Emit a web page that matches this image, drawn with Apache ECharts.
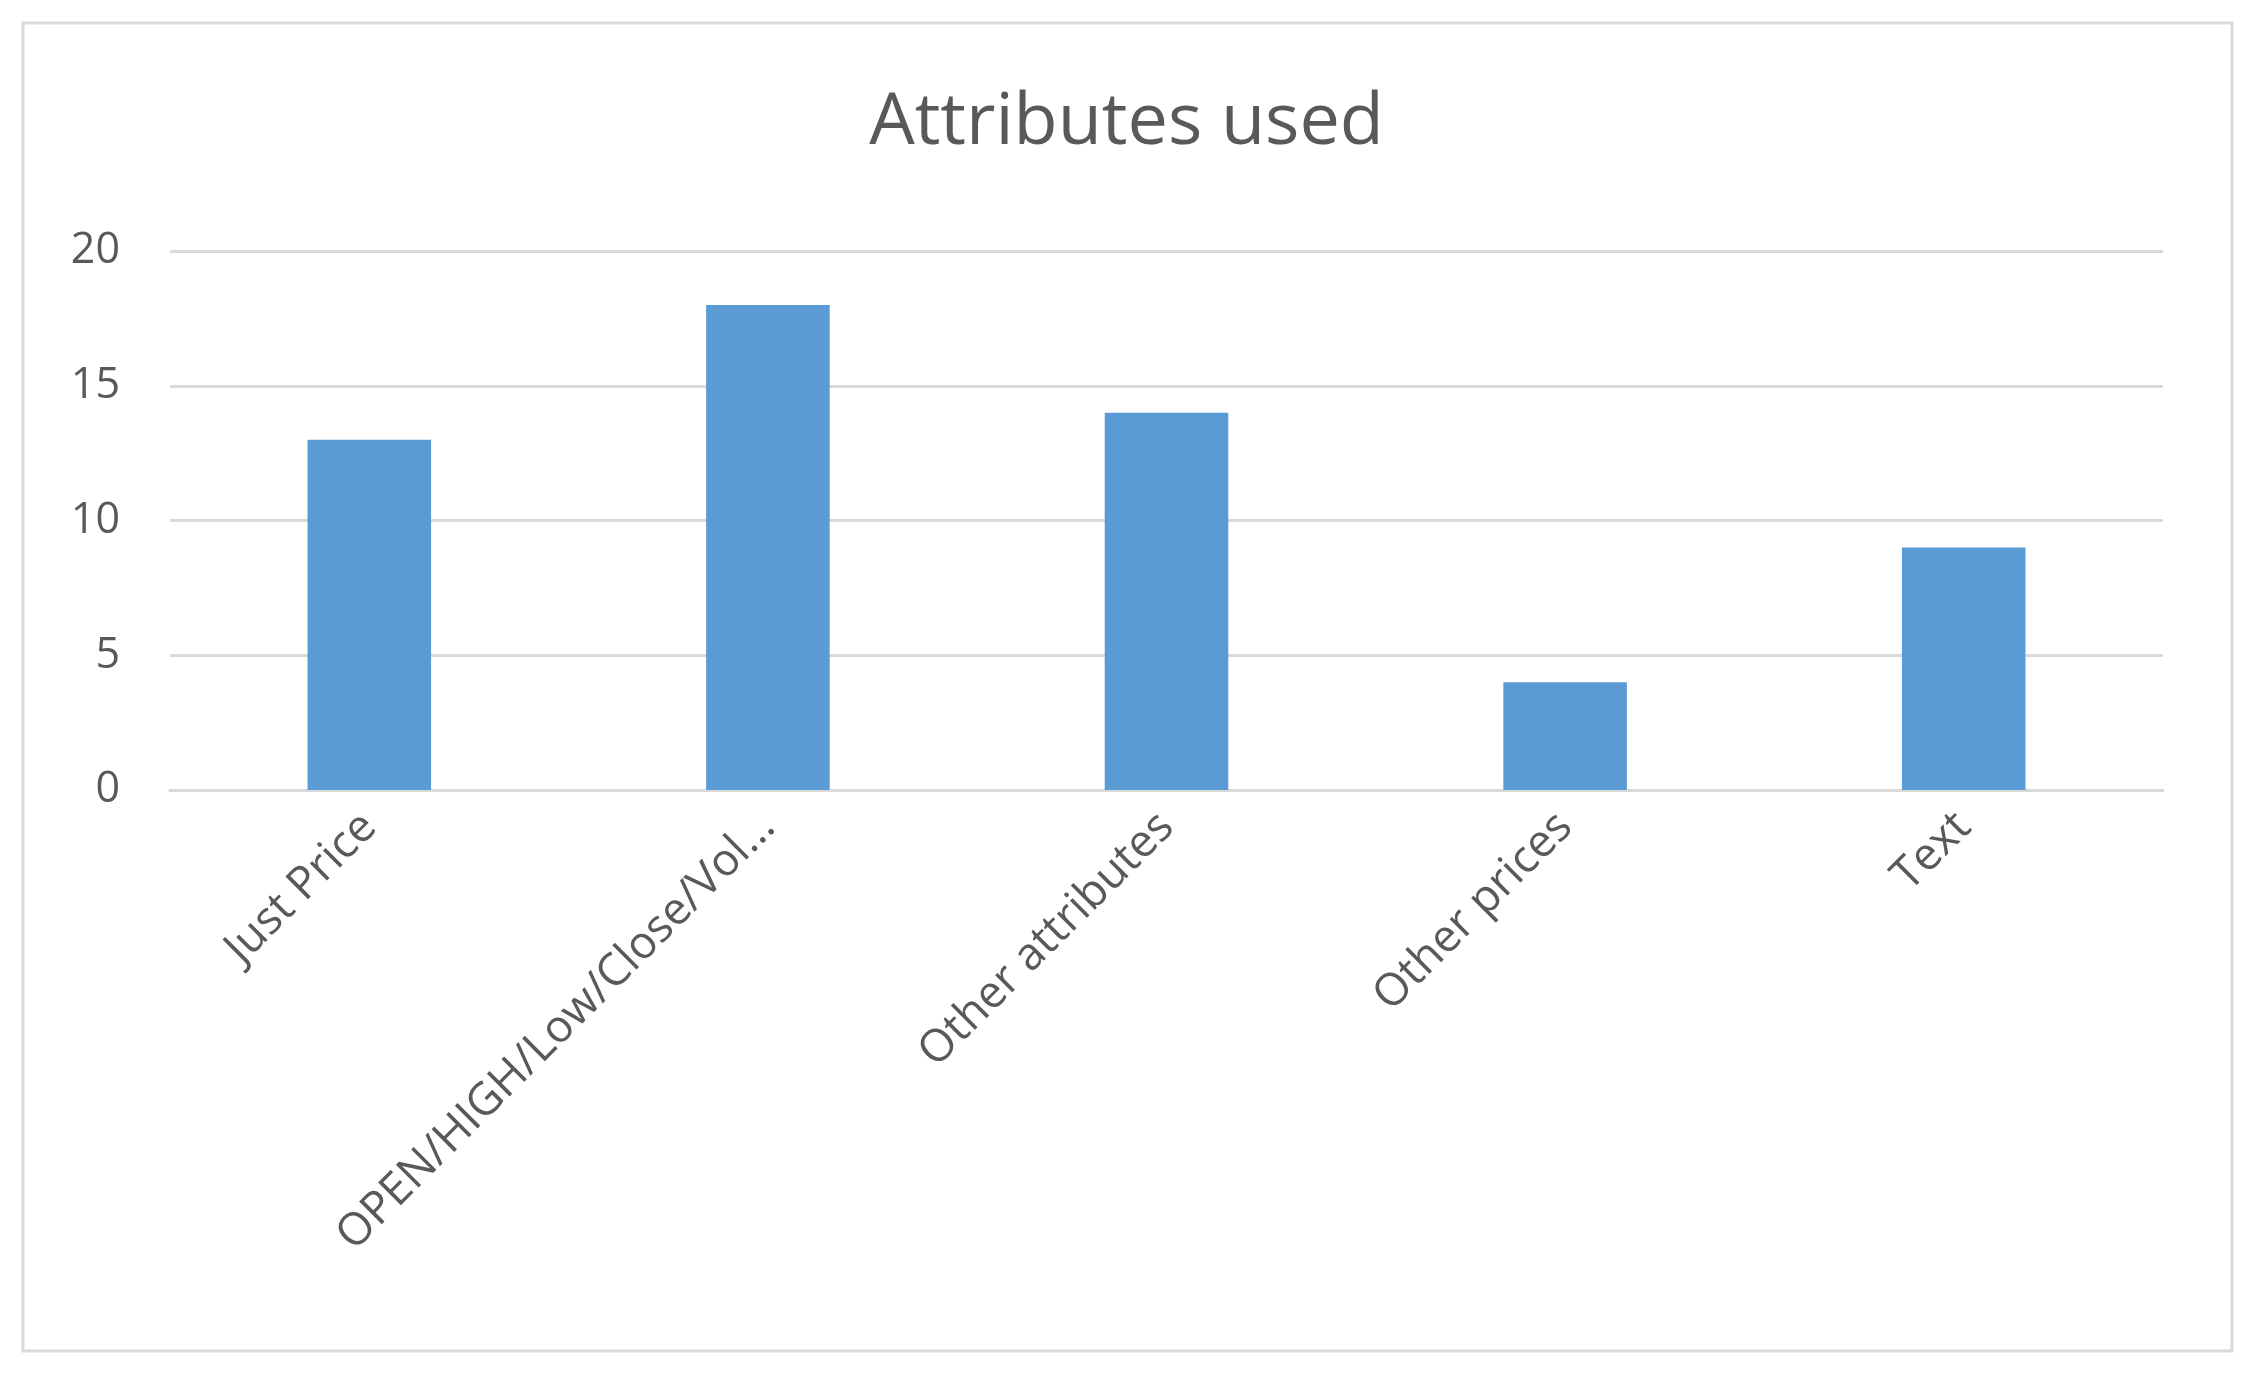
<!DOCTYPE html>
<html><head><meta charset="utf-8">
<script src="https://cdn.jsdelivr.net/npm/echarts@6/dist/echarts.min.js"></script>
<style>html,body{margin:0;background:#fff}#c{width:2253px;height:1378px}</style>
</head><body><div id="c"></div>
<script>
const categories = ["Just Price","OPEN/HIGH/Low/Close/Vol...","Other attributes","Other prices","Text"];
const values = [13,18,14,4,9];
const yTicks = [0,5,10,15,20];
const chart = echarts.init(document.getElementById('c'));
chart.setOption({
  animation:false,
  graphic:[{type:'rect',shape:{x:23,y:23,width:2209,height:1328},style:{fill:'none',stroke:'#d9d9d9',lineWidth:3}}],
  title:{text:'Attributes used',left:'center',top:82,textStyle:{fontFamily:'Open Sans',fontSize:72,fontWeight:'normal',color:'#595959'}},
  grid:{left:170,right:90,top:251,bottom:588},
  xAxis:{type:'category',data:categories,axisTick:{show:false},
    axisLine:{lineStyle:{color:'#d9d9d9',width:3}},
    axisLabel:{rotate:45,fontFamily:'Open Sans',fontSize:45,color:'#595959',margin:30,interval:0}},
  yAxis:{type:'value',min:0,max:20,interval:5,
    axisLabel:{fontFamily:'Open Sans',fontSize:43,color:'#595959',margin:50,formatter:v=>yTicks.includes(v)?String(v):''},
    splitLine:{lineStyle:{color:'#d9d9d9',width:3}},axisLine:{show:false},axisTick:{show:false}},
  series:[{type:'bar',data:values,barWidth:'31%',itemStyle:{color:'#5b9bd5'}}]
});
</script></body></html>
